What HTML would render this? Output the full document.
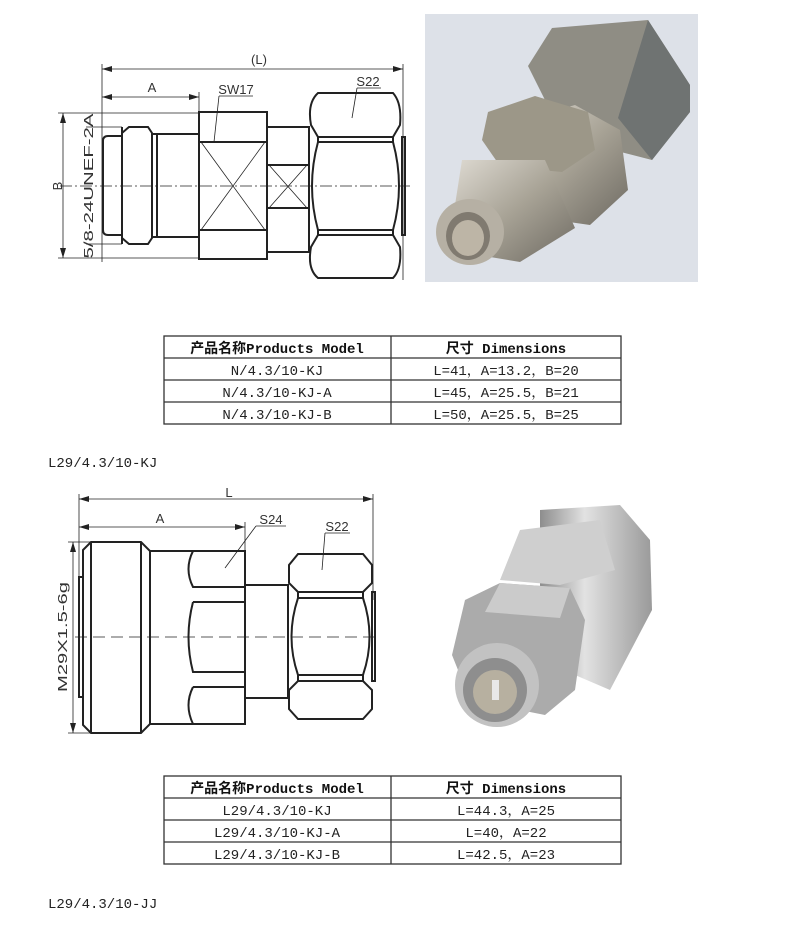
<!DOCTYPE html>
<html><head><meta charset="utf-8"><style>
html,body{margin:0;padding:0;background:#fff;width:800px;height:926px;overflow:hidden}
svg{display:block}
.t{font-family:"Liberation Mono","Noto Serif CJK SC",monospace;font-size:14px;fill:#222}
.h{font-family:"Liberation Mono","Noto Sans CJK SC",monospace;font-size:14px;font-weight:bold;fill:#111}
.d{font-family:"Liberation Sans",sans-serif;font-size:13px;fill:#333}
</style></head><body>
<svg width="800" height="926" viewBox="0 0 800 926" xmlns="http://www.w3.org/2000/svg">
<defs>
<marker id="ar" markerWidth="10" markerHeight="6" refX="10" refY="3" orient="auto-start-reverse" markerUnits="userSpaceOnUse"><path d="M0,0 L10,3 L0,6 Z" fill="#222"/></marker>
<linearGradient id="cyl" x1="0" y1="0" x2="1" y2="1"><stop offset="0" stop-color="#e0dcd4"/><stop offset="0.5" stop-color="#a8a396"/><stop offset="1" stop-color="#6e6a62"/></linearGradient>
<linearGradient id="cyl2" x1="0" y1="0" x2="1" y2="0"><stop offset="0" stop-color="#8d8d8d"/><stop offset="0.4" stop-color="#e2e2e2"/><stop offset="1" stop-color="#9a9a9a"/></linearGradient>
</defs>

<!-- ===== TOP DRAWING ===== -->
<g stroke="#222" fill="none">
 <g stroke-width="0.8">
  <line x1="102" y1="64" x2="102" y2="262"/>
  <line x1="403" y1="64" x2="403" y2="280"/>
  <line x1="102" y1="69" x2="403" y2="69" marker-start="url(#ar)" marker-end="url(#ar)"/>
  <line x1="102" y1="97" x2="199" y2="97" marker-start="url(#ar)" marker-end="url(#ar)"/>
  <line x1="199" y1="92" x2="199" y2="112"/>
  <line x1="63" y1="113" x2="63" y2="258" marker-start="url(#ar)" marker-end="url(#ar)"/>
  <line x1="58" y1="113" x2="199" y2="113"/>
  <line x1="58" y1="258" x2="199" y2="258"/>
  <line x1="86" y1="127" x2="122" y2="127"/>
  <line x1="86" y1="244" x2="122" y2="244"/>
  <line x1="60" y1="186" x2="410" y2="186" stroke-dasharray="12,3,2,3"/>
  <line x1="214" y1="142" x2="219" y2="96"/><line x1="219" y1="96" x2="253" y2="96"/>
  <line x1="352" y1="118" x2="357" y2="88"/><line x1="357" y1="88" x2="381" y2="88"/>
  <line x1="201" y1="142" x2="265" y2="230"/><line x1="265" y1="142" x2="201" y2="230"/>
  <line x1="269" y1="165" x2="307" y2="208"/><line x1="307" y1="165" x2="269" y2="208"/>
 </g>
 <g stroke-width="2">
  <path d="M122,136 L108,136 Q103,136 103,141 L103,230 Q103,235 108,235 L122,235"/>
  <path d="M122,133 L129,127 L148,127 L152,133 L152,238 L148,244 L129,244 L122,238 Z"/>
  <line x1="122" y1="127" x2="122" y2="244"/>
  <line x1="157" y1="134" x2="157" y2="237"/>
  <path d="M152,134 L199,134 M152,237 L199,237"/>
  <rect x="199" y="112" width="68" height="147"/>
  <line x1="199" y1="142" x2="267" y2="142"/><line x1="199" y1="230" x2="267" y2="230"/>
  <rect x="267" y="127" width="42" height="125"/>
  <line x1="267" y1="165" x2="309" y2="165"/><line x1="267" y1="208" x2="309" y2="208"/>
  <path d="M318,93 L393,93 Q402,103 400,125 L393,137 L318,137 L311,125 Q307,103 318,93 Z"/>
  <path d="M318,137 L393,137 L393,142 L318,142 Z"/>
  <path d="M318,142 L393,142 Q405,186 393,230 L318,230 Q306,186 318,142 Z"/>
  <path d="M318,230 L393,230 L393,235 L318,235 Z"/>
  <path d="M318,235 L393,235 L400,247 Q402,269 393,278 L318,278 Q307,269 311,247 Z"/>
  <rect x="402" y="137" width="3" height="98"/>
 </g>
</g>
<text class="d" x="259" y="64" text-anchor="middle">(L)</text>
<text class="d" x="152" y="92" text-anchor="middle">A</text>
<text class="d" x="236" y="94" text-anchor="middle">SW17</text>
<text class="d" x="368" y="86" text-anchor="middle">S22</text>
<text class="d" transform="translate(62,186) rotate(-90)" text-anchor="middle">B</text>
<text class="d" transform="translate(93,186) rotate(-90)" text-anchor="middle" font-size="16" textLength="145" lengthAdjust="spacingAndGlyphs">5/8-24UNEF-2A</text>

<!-- TOP PHOTO -->
<rect x="425" y="14" width="273" height="268" fill="#dde1e8"/>
<path d="M552,28 L648,20 L690,85 L690,112 L652,160 L605,148 L545,100 L528,66 Z" fill="#8f8d84"/>
<path d="M648,20 L690,85 L690,112 L652,160 L618,118 Z" fill="#6f7372"/>
<path d="M505,125 L575,105 L620,130 L628,190 L590,225 L520,215 Z" fill="url(#cyl)"/>
<path d="M488,112 L535,96 L588,112 L595,150 L562,172 L500,166 L482,140 Z" fill="#9c9788"/>
<path d="M462,160 L545,160 L575,228 L520,262 L448,250 Z" fill="url(#cyl)"/>
<ellipse cx="470" cy="232" rx="34" ry="33" fill="#b6b0a4"/>
<ellipse cx="468" cy="236" rx="22" ry="24" fill="#807a70"/>
<ellipse cx="468" cy="238" rx="16" ry="18" fill="#bdb5a6"/>

<!-- ===== TABLE 1 ===== -->
<g stroke="#333" stroke-width="1.3" fill="none">
 <rect x="164" y="336" width="457" height="88"/>
 <line x1="164" y1="358" x2="621" y2="358"/><line x1="164" y1="380" x2="621" y2="380"/><line x1="164" y1="402" x2="621" y2="402"/>
 <line x1="391" y1="336" x2="391" y2="424"/>
</g>
<text class="h" x="277" y="353" text-anchor="middle">产品名称Products Model</text>
<text class="h" x="506" y="353" text-anchor="middle">尺寸 Dimensions</text>
<text class="t" x="277" y="375" text-anchor="middle">N/4.3/10-KJ</text>
<text class="t" x="277" y="397" text-anchor="middle">N/4.3/10-KJ-A</text>
<text class="t" x="277" y="419" text-anchor="middle">N/4.3/10-KJ-B</text>
<text class="t" x="506" y="375" text-anchor="middle">L=41，A=13.2，B=20</text>
<text class="t" x="506" y="397" text-anchor="middle">L=45，A=25.5，B=21</text>
<text class="t" x="506" y="419" text-anchor="middle">L=50，A=25.5，B=25</text>
<text class="t" x="48" y="467">L29/4.3/10-KJ</text>

<!-- ===== BOTTOM DRAWING ===== -->
<g stroke="#222" fill="none">
 <g stroke-width="0.8">
  <line x1="79" y1="494" x2="79" y2="580"/>
  <line x1="373" y1="494" x2="373" y2="600"/>
  <line x1="79" y1="499" x2="373" y2="499" marker-start="url(#ar)" marker-end="url(#ar)"/>
  <line x1="79" y1="527" x2="245" y2="527" marker-start="url(#ar)" marker-end="url(#ar)"/>
  <line x1="245" y1="522" x2="245" y2="551"/>
  <line x1="73" y1="542" x2="73" y2="733" marker-start="url(#ar)" marker-end="url(#ar)"/>
  <line x1="68" y1="542" x2="90" y2="542"/><line x1="68" y1="733" x2="90" y2="733"/>
  <line x1="75" y1="637" x2="380" y2="637" stroke-dasharray="12,6"/>
  <line x1="225" y1="568" x2="256" y2="526"/><line x1="256" y1="526" x2="286" y2="526"/>
  <line x1="322" y1="570" x2="325" y2="533"/><line x1="325" y1="533" x2="350" y2="533"/>
 </g>
 <g stroke-width="2">
  <rect x="79" y="577" width="4" height="120"/>
  <path d="M83,550 L91,542 L141,542 L150,551 L150,724 L141,733 L91,733 L83,725 Z"/>
  <line x1="91" y1="542" x2="91" y2="733"/><line x1="141" y1="542" x2="141" y2="733"/>
  <rect x="150" y="551" width="95" height="173"/>
  <path d="M193,551 Q184,569 193,587 L245,587"/>
  <path d="M193,602 L245,602 M193,602 Q184,637 193,672 L245,672"/>
  <path d="M193,687 L245,687 M193,687 Q184,705 193,724"/>
  <rect x="245" y="585" width="43" height="113"/>
  <path d="M298,554 L363,554 L372,565 L372,583 L363,592 L298,592 L289,583 L289,565 Z"/>
  <path d="M298,592 L363,592 L363,598 L298,598 Z"/>
  <path d="M298,598 L363,598 Q376,637 363,675 L298,675 Q285,637 298,598 Z"/>
  <path d="M298,675 L363,675 L363,681 L298,681 Z"/>
  <path d="M298,681 L363,681 L372,690 L372,709 L363,719 L298,719 L289,709 L289,690 Z"/>
  <rect x="372" y="592" width="3" height="89"/>
 </g>
</g>
<text class="d" x="229" y="497" text-anchor="middle">L</text>
<text class="d" x="160" y="523" text-anchor="middle">A</text>
<text class="d" x="271" y="524" text-anchor="middle">S24</text>
<text class="d" x="337" y="531" text-anchor="middle">S22</text>
<text class="d" transform="translate(67,637) rotate(-90)" text-anchor="middle" font-size="16" textLength="110" lengthAdjust="spacingAndGlyphs">M29X1.5-6g</text>

<!-- BOTTOM PHOTO -->
<path d="M540,510 L620,505 L650,540 L652,610 L610,690 L540,660 Z" fill="url(#cyl2)"/>
<path d="M520,530 L600,520 L615,570 L560,585 L500,580 Z" fill="#cfcfcf"/>
<path d="M500,583 L570,588 L585,620 L575,690 L545,715 L470,700 L452,655 L465,600 Z" fill="#ababab"/>
<path d="M500,583 L570,588 L560,618 L485,612 Z" fill="#cbcbcb"/>
<circle cx="497" cy="685" r="42" fill="#c2c2c2"/>
<circle cx="495" cy="690" r="32" fill="#8e8e8e"/>
<circle cx="495" cy="692" r="22" fill="#b7b0a0"/>
<rect x="492" y="680" width="7" height="20" fill="#e8e8e8"/>

<!-- ===== TABLE 2 ===== -->
<g stroke="#333" stroke-width="1.3" fill="none">
 <rect x="164" y="776" width="457" height="88"/>
 <line x1="164" y1="798" x2="621" y2="798"/><line x1="164" y1="820" x2="621" y2="820"/><line x1="164" y1="842" x2="621" y2="842"/>
 <line x1="391" y1="776" x2="391" y2="864"/>
</g>
<text class="h" x="277" y="793" text-anchor="middle">产品名称Products Model</text>
<text class="h" x="506" y="793" text-anchor="middle">尺寸 Dimensions</text>
<text class="t" x="277" y="815" text-anchor="middle">L29/4.3/10-KJ</text>
<text class="t" x="277" y="837" text-anchor="middle">L29/4.3/10-KJ-A</text>
<text class="t" x="277" y="859" text-anchor="middle">L29/4.3/10-KJ-B</text>
<text class="t" x="506" y="815" text-anchor="middle">L=44.3，A=25</text>
<text class="t" x="506" y="837" text-anchor="middle">L=40，A=22</text>
<text class="t" x="506" y="859" text-anchor="middle">L=42.5，A=23</text>
<text class="t" x="48" y="908">L29/4.3/10-JJ</text>
</svg>
</body></html>
